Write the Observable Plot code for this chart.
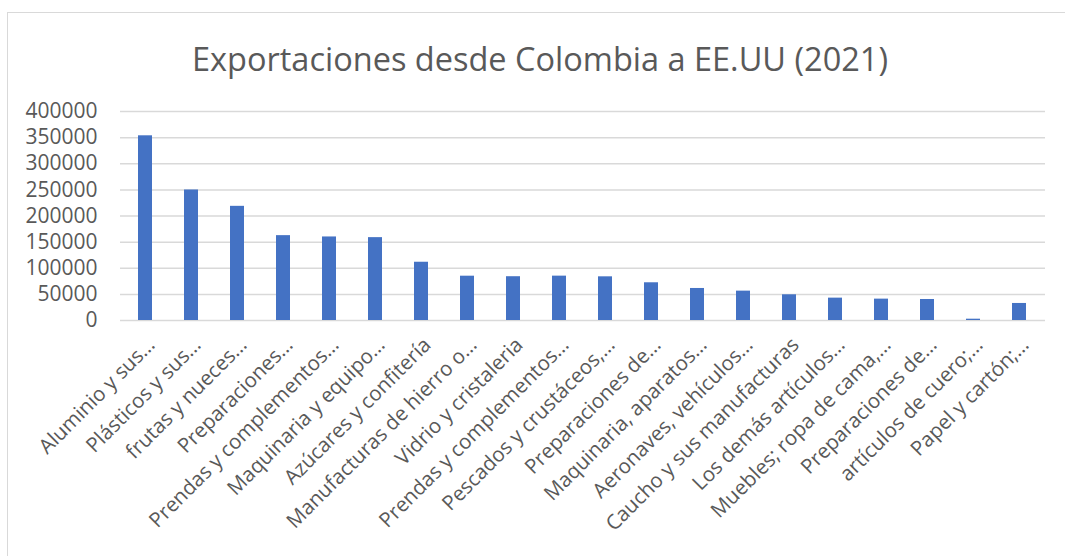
<!DOCTYPE html>
<html><head><meta charset="utf-8">
<script src="https://cdn.jsdelivr.net/npm/d3@7"></script>
<script src="https://cdn.jsdelivr.net/npm/@observablehq/plot@0.6"></script>
<style>
body{margin:0;background:#fff;font-family:"Open Sans",sans-serif;}
#wrap{position:relative;width:1065px;height:556px;overflow:hidden;}
#frame{position:absolute;left:7px;top:12px;width:1080px;height:600px;border:1.5px solid #d9d9d9;box-sizing:border-box;}
#title{position:relative;left:0;width:1080px;height:95px;text-align:center;font-size:32.5px;color:#595959;line-height:32px;box-sizing:border-box;}
#title span{position:absolute;left:0;right:0;top:43px;}
#chart{position:relative;}
</style>
</head><body>
<div id="wrap"><div id="frame"></div>
<div id="title"><span>Exportaciones desde Colombia a EE.UU (2021)</span></div>
<div id="chart"></div></div>
<script>
const categories = [
  "Aluminio y sus…",
  "Plásticos y sus…",
  "frutas y nueces…",
  "Preparaciones…",
  "Prendas y complementos…",
  "Maquinaria y equipo…",
  "Azúcares y confitería",
  "Manufacturas de hierro o…",
  "Vidrio y cristaleria",
  "Prendas y complementos…",
  "Pescados y crustáceos,…",
  "Preparaciones de…",
  "Maquinaria, aparatos…",
  "Aeronaves, vehículos…",
  "Caucho y sus manufacturas",
  "Los demás artículos…",
  "Muebles; ropa de cama,…",
  "Preparaciones de…",
  "artículos de cuero;…",
  "Papel y cartón;…"
];
const values = [353500, 249800, 218500, 162400, 159900, 158600, 111500, 84800, 83800, 84900, 83600, 72200, 61300, 56200, 49200, 42800, 40900, 40200, 2500, 32600];
const yTicks = [0, 50000, 100000, 150000, 200000, 250000, 300000, 350000, 400000];

const data = values.map((v, i) => ({i, v}));
const pad = 0.69;
const chart = Plot.plot({
  width: 1065,
  height: 461,
  marginLeft: 120,
  marginRight: 20,
  marginTop: 16,
  marginBottom: 236,
  style: {fontFamily: "'Open Sans', sans-serif", color: "#595959", background: "transparent", overflow: "visible"},
  x: {type: "band", domain: d3.range(values.length), paddingInner: pad, paddingOuter: pad / 2},
  y: {domain: [0, 400000]},
  marks: [
    Plot.gridY(yTicks, {stroke: "#d9d9d9", strokeOpacity: 1, strokeWidth: 1.5}),
    Plot.barY(data, {x: "i", y: "v", fill: "#4472C4"}),
    Plot.axisY(yTicks, {tickSize: 0, tickPadding: 23, fontSize: 21, tickFormat: d => String(d), label: null, fill: "#595959"}),
    Plot.axisX({tickSize: 0, tickRotate: -45, tickPadding: 21, dx: 6, fontSize: 20.5, tickFormat: i => categories[i], label: null, fill: "#595959"})
  ]
});
document.getElementById("chart").appendChild(chart);
</script>
</body></html>
